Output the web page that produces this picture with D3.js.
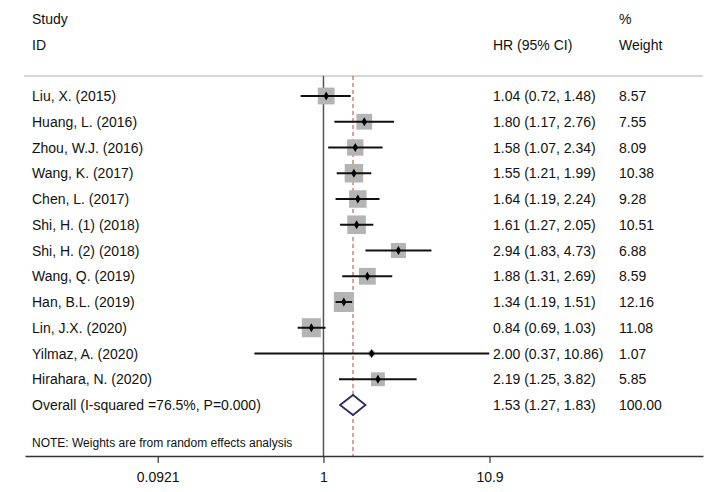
<!DOCTYPE html>
<html>
<head>
<meta charset="utf-8">
<script src="https://cdn.jsdelivr.net/npm/d3@7"></script>
<style>
  body { margin: 0; background: #fff; }
  svg { display: block; font-family: "Liberation Sans", Arial, Helvetica, sans-serif; }
</style>
</head>
<body>
<svg id="chart" width="708" height="492"></svg>
<script>
const studies = ["Liu, X. (2015)", "Huang, L. (2016)", "Zhou, W.J. (2016)", "Wang, K. (2017)", "Chen, L. (2017)",
  "Shi, H. (1) (2018)", "Shi, H. (2) (2018)", "Wang, Q. (2019)", "Han, B.L. (2019)", "Lin, J.X. (2020)",
  "Yilmaz, A. (2020)", "Hirahara, N. (2020)"];
const hr =      [1.04, 1.80, 1.58, 1.55, 1.64, 1.61, 2.94, 1.88, 1.34, 0.84, 2.00, 2.19];
const lower =   [0.72, 1.17, 1.07, 1.21, 1.19, 1.27, 1.83, 1.31, 1.19, 0.69, 0.37, 1.25];
const upper =   [1.48, 2.76, 2.34, 1.99, 2.24, 2.05, 4.73, 2.69, 1.51, 1.03, 10.86, 3.82];
const weights = [8.57, 7.55, 8.09, 10.38, 9.28, 10.51, 6.88, 8.59, 12.16, 11.08, 1.07, 5.85];
const overallLabel = "Overall (I-squared =76.5%, P=0.000)";
const overall = { hr: 1.53, lower: 1.27, upper: 1.83, weight: 100.00 };
const tickValues = [0.0921, 1, 10.9];
const tickLabels = ["0.0921", "1", "10.9"];

const svg = d3.select("#chart");
const fmt = d3.format(".2f");

const FS = 14;
const colLabel = 32, colHR = 493, colW = 619;

const x = d3.scaleLog().domain([tickValues[0], tickValues[2]]).range([157.7, 489.5]);
const xAxisScale = x.copy().domain([x.invert(25), x.invert(703)]).range([25, 703]);
const rows = studies.concat([overallLabel]);
const y = d3.scalePoint().domain(rows).range([96, 405]);
const boxSize = d3.scaleSqrt().domain([0, 12.16]).range([0, 20]);

const plotTop = 76, axisY = 456;

// header
const hdr = svg.append("g").attr("font-size", FS).attr("fill", "#111");
hdr.append("text").attr("x", colLabel).attr("y", 24).text("Study");
hdr.append("text").attr("x", colLabel).attr("y", 50).text("ID");
hdr.append("text").attr("x", colHR).attr("y", 50).text("HR (95% CI)");
hdr.append("text").attr("x", colW).attr("y", 24).text("%");
hdr.append("text").attr("x", colW).attr("y", 50).text("Weight");
svg.append("line").attr("x1", 24).attr("x2", 703).attr("y1", plotTop).attr("y2", plotTop)
  .attr("stroke", "#c8c8c8").attr("stroke-width", 1.5);

// null line
svg.append("line").attr("x1", x(1)).attr("x2", x(1)).attr("y1", plotTop).attr("y2", axisY)
  .attr("stroke", "#555").attr("stroke-width", 1.5);
// overall dashed line
svg.append("line").attr("x1", x(overall.hr)).attr("x2", x(overall.hr)).attr("y1", plotTop).attr("y2", axisY)
  .attr("stroke", "#b0473a").attr("stroke-width", 1).attr("stroke-dasharray", "4,3");

// study rows
const data = studies.map((s, i) => ({ s, hr: hr[i], lo: lower[i], hi: upper[i], w: weights[i] }));
const g = svg.append("g");
g.selectAll("rect.box").data(data).enter().append("rect")
  .attr("x", d => x(d.hr) - boxSize(d.w) / 2)
  .attr("y", d => y(d.s) - boxSize(d.w) / 2)
  .attr("width", d => boxSize(d.w)).attr("height", d => boxSize(d.w))
  .attr("fill", "#b4b4b4");
g.selectAll("line.ci").data(data).enter().append("line")
  .attr("x1", d => x(d.lo)).attr("x2", d => x(d.hi))
  .attr("y1", d => y(d.s)).attr("y2", d => y(d.s))
  .attr("stroke", "#111").attr("stroke-width", 2);
g.selectAll("path.pt").data(data).enter().append("path")
  .attr("transform", d => `translate(${x(d.hr)},${y(d.s)})`)
  .attr("d", d3.symbol().type(d3.symbolDiamond).size(24))
  .attr("fill", "#000");

const txt = svg.append("g").attr("font-size", FS).attr("fill", "#111");
txt.selectAll("text.lab").data(data).enter().append("text")
  .attr("x", colLabel).attr("y", d => y(d.s) + 5).text(d => d.s);
txt.selectAll("text.ci").data(data).enter().append("text")
  .attr("x", colHR).attr("y", d => y(d.s) + 5)
  .text(d => `${fmt(d.hr)} (${fmt(d.lo)}, ${fmt(d.hi)})`);
txt.selectAll("text.w").data(data).enter().append("text")
  .attr("x", colW).attr("y", d => y(d.s) + 5).text(d => fmt(d.w));

// overall
const oy = y(overallLabel);
svg.append("path")
  .attr("d", `M${x(overall.lower)},${oy} L${x(overall.hr)},${oy - 10} L${x(overall.upper)},${oy} L${x(overall.hr)},${oy + 10} Z`)
  .attr("fill", "#fff").attr("stroke", "#2b2d5e").attr("stroke-width", 1.8);
txt.append("text").attr("x", colLabel).attr("y", oy + 5).text(overallLabel);
txt.append("text").attr("x", colHR).attr("y", oy + 5)
  .text(`${fmt(overall.hr)} (${fmt(overall.lower)}, ${fmt(overall.upper)})`);
txt.append("text").attr("x", colW).attr("y", oy + 5).text(fmt(overall.weight));

svg.append("text").attr("x", colLabel).attr("y", 447).attr("font-size", 12).attr("fill", "#111")
  .text("NOTE: Weights are from random effects analysis");

// axis
const axis = d3.axisBottom(xAxisScale).tickValues(tickValues)
  .tickFormat((d, i) => tickLabels[i]).tickSizeOuter(0).tickSizeInner(7).tickPadding(9);
const ax = svg.append("g").attr("transform", `translate(0,${axisY})`).call(axis);
ax.select(".domain").attr("stroke", "#333").attr("stroke-width", 1.5);
ax.selectAll(".tick line").attr("stroke", "#333").attr("stroke-width", 1.2);
ax.selectAll(".tick text").attr("font-size", FS).attr("fill", "#111")
  .attr("font-family", "'Liberation Sans', Arial, sans-serif");
</script>
</body>
</html>
